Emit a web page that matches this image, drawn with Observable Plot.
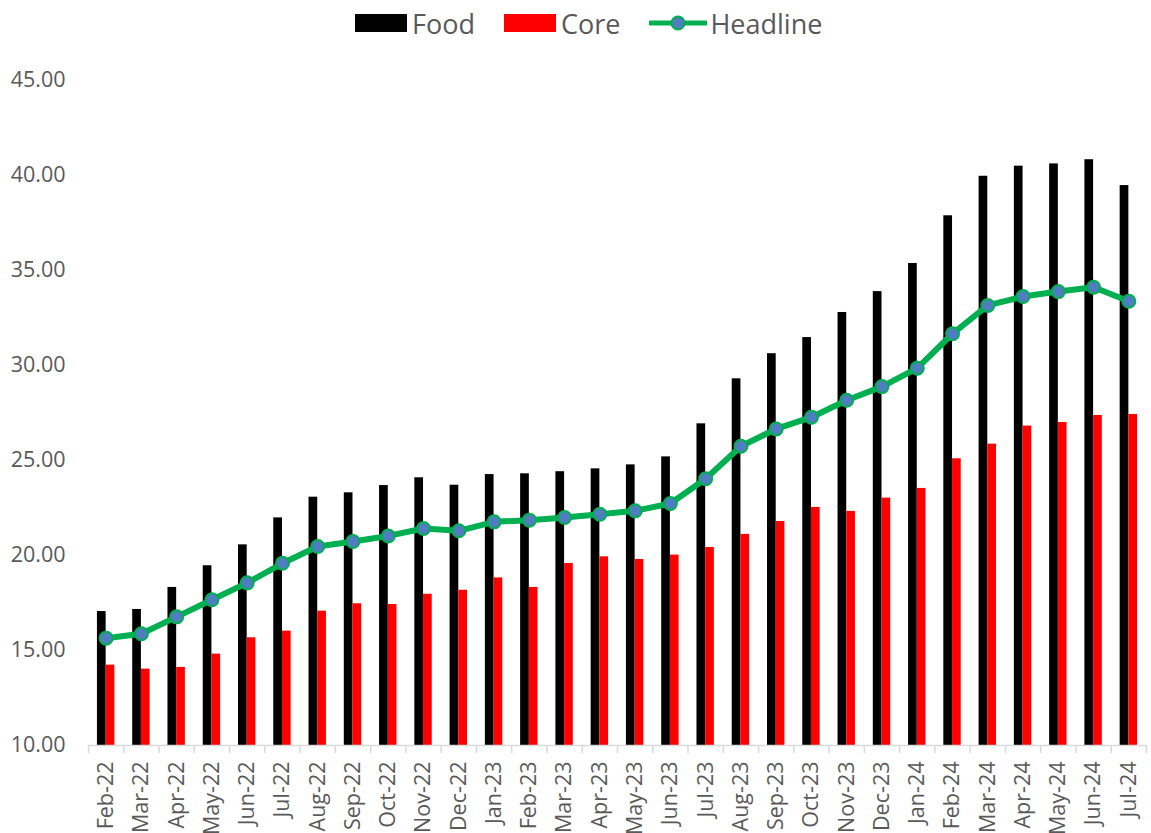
<!DOCTYPE html>
<html>
<head>
<meta charset="utf-8">
<script src="https://cdn.jsdelivr.net/npm/d3@7"></script>
<script src="https://cdn.jsdelivr.net/npm/@observablehq/plot@0.6"></script>
<style>
  html, body { margin: 0; padding: 0; background: #fff; }
  body { width: 1151px; height: 833px; overflow: hidden; font-family: "Open Sans", sans-serif; }
  #legend { height: 50px; display: flex; align-items: center; padding-left: 355px; padding-bottom: 4px; box-sizing: border-box; color: #595959; font-size: 27px; }
  .item { display: flex; align-items: center; margin-right: 29px; }
  .sw { width: 52px; height: 18px; margin-right: 5px; }
  .item span { line-height: 1; }
  svg { display: block; }
</style>
</head>
<body>
<div id="legend">
  <div class="item"><div class="sw" style="background:#000"></div><span>Food</span></div>
  <div class="item"><div class="sw" style="background:#ff0000"></div><span>Core</span></div>
  <div class="item"><svg width="58" height="18" style="margin-right:3px"><line x1="1" y1="9" x2="57" y2="9" stroke="#00B050" stroke-width="5" stroke-linecap="round"/><circle cx="29" cy="9" r="6.5" fill="#4F7EC0" stroke="#00B050" stroke-width="2"/></svg><span>Headline</span></div>
</div>
<div id="chart"></div>
<script>
const months = ["Feb-22","Mar-22","Apr-22","May-22","Jun-22","Jul-22","Aug-22","Sep-22","Oct-22","Nov-22","Dec-22",
  "Jan-23","Feb-23","Mar-23","Apr-23","May-23","Jun-23","Jul-23","Aug-23","Sep-23","Oct-23","Nov-23","Dec-23",
  "Jan-24","Feb-24","Mar-24","Apr-24","May-24","Jun-24","Jul-24"];
const food = [17.05,17.16,18.32,19.46,20.56,21.98,23.07,23.30,23.68,24.09,23.70,
  24.26,24.30,24.41,24.56,24.77,25.19,26.93,29.30,30.62,31.47,32.79,33.89,
  35.37,37.88,39.96,40.49,40.61,40.83,39.47];
const core = [14.23,14.02,14.11,14.81,15.67,16.02,17.07,17.46,17.42,17.96,18.17,
  18.82,18.32,19.58,19.93,19.79,20.02,20.42,21.11,21.79,22.53,22.32,23.02,
  23.53,25.09,25.86,26.81,27.00,27.37,27.42];
const headline = [15.65,15.88,16.77,17.67,18.56,19.59,20.47,20.74,21.03,21.42,21.30,
  21.77,21.86,22.00,22.17,22.35,22.74,24.04,25.75,26.66,27.28,28.17,28.89,
  29.86,31.67,33.16,33.63,33.89,34.12,33.38];
const yTicks = [10,15,20,25,30,35,40,45];

const data = months.map((m, i) => ({month: m, food: food[i], core: core[i], headline: headline[i]}));
const base = yTicks[0];

const W = 1151, mL = 88, mR = 5;
const bw = (W - mL - mR) / months.length;
const barW = 8.7;
const tickLen = 8 / 19;

const chart = Plot.plot({
  width: W,
  height: 783,
  marginTop: 30,
  marginBottom: 88,
  marginLeft: mL,
  marginRight: mR,
  style: {fontFamily: "Open Sans, sans-serif", fontSize: "21.5px", color: "#595959", background: "#fff", overflow: "visible"},
  x: {type: "band", domain: months, padding: 0, round: false, axis: null},
  y: {type: "linear", domain: [yTicks[0], yTicks[yTicks.length - 1]], axis: null},
  marks: [
    Plot.barY(data, {x: "month", y1: () => base, y2: "food", fill: "#000", insetLeft: bw / 2 - barW, insetRight: bw / 2}),
    Plot.barY(data, {x: "month", y1: () => base, y2: "core", fill: "#ff0000", insetLeft: bw / 2, insetRight: bw / 2 - barW}),
    Plot.ruleY([base], {stroke: "#d9d9d9", strokeWidth: 1.5}),
    Plot.ruleX(months, {x: d => d, y1: () => base, y2: () => base - tickLen, dx: -bw / 2, stroke: "#d9d9d9", strokeWidth: 1.5}),
    Plot.ruleX(months.slice(-1), {x: d => d, y1: () => base, y2: () => base - tickLen, dx: bw / 2, stroke: "#d9d9d9", strokeWidth: 1.5}),
    Plot.line(data, {x: "month", y: "headline", stroke: "#00B050", strokeWidth: 6, strokeLinejoin: "round"}),
    Plot.dot(data, {x: "month", y: "headline", r: 6.5, fill: "#4F7EC0", stroke: "#00B050", strokeWidth: 2}),
    Plot.axisY(yTicks, {tickSize: 0, tickPadding: 23, tickFormat: d => d.toFixed(2), fontSize: 21.5, label: null}),
    Plot.axisX(months, {tickSize: 0, tickPadding: 16, tickRotate: -90, textAnchor: "end", fontSize: 21.5, label: null})
  ]
});
document.getElementById("chart").appendChild(chart);
</script>
</body>
</html>
